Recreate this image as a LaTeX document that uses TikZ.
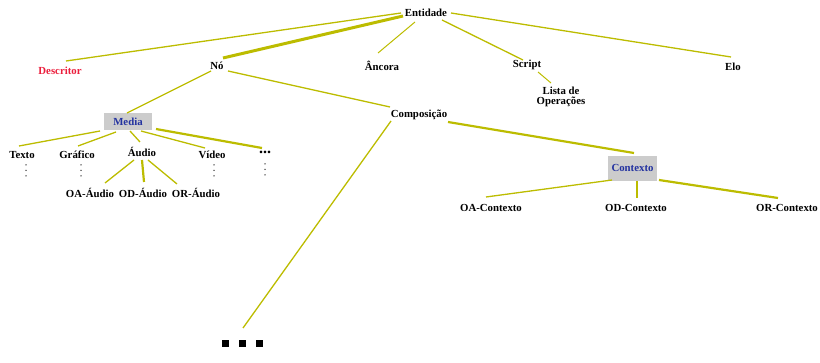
\documentclass[tikz,border=0pt]{standalone}
\usepackage{fontspec}
\setmainfont{Liberation Serif}
\usetikzlibrary{calc}
\definecolor{linkc}{RGB}{188,188,0}
\definecolor{boxgray}{RGB}{204,204,204}
\definecolor{mediablue}{RGB}{35,50,160}
\definecolor{descred}{RGB}{235,30,60}
\begin{document}
\begin{tikzpicture}[x=1pt,y=-1pt,
  lbl/.style={font=\fontsize{10.8}{10}\selectfont\bfseries, inner sep=0pt, align=center},
  graybox/.style={lbl, fill=boxgray, text=mediablue, minimum width=48pt},
  link/.style={draw=linkc, line width=1.3pt},
  thick link/.style={draw=linkc, line width=2.2pt},
  heavy link/.style={draw=linkc, line width=3pt},
  vdot/.style={fill=black!80, inner sep=0pt, minimum size=1.5pt, circle}]
\useasboundingbox (0,0) rectangle (820,363);

% nodes
\node[lbl] (ent) at (426,13) {Entidade};
\node[lbl, text=descred] (desc) at (60,71) {Descritor};
\node[lbl] (no) at (217,66) {Nó};
\node[lbl] (anc) at (382,66) {Âncora};
\node[lbl] (script) at (527,65) {Script};
\node[lbl] (elo) at (733,67) {Elo};
\node[lbl] (lista) at (561,97) {Lista de\\Operações};
\node[graybox, minimum height=17pt] (media) at (128,121.5) {Media};
\node[lbl] (comp) at (419,115) {Composição};
\node[graybox, minimum width=49pt, minimum height=25pt, text depth=0pt] (ctx) at (632.5,168.5) {\raisebox{2pt}{Contexto}};
\node[lbl] (oactx) at (491,208) {OA-Contexto};
\node[lbl] (odctx) at (636,208) {OD-Contexto};
\node[lbl] (orctx) at (787,208) {OR-Contexto};
\node[lbl] (texto) at (22,155) {Texto};
\node[lbl] (graf) at (77,155) {Gráfico};
\node[lbl] (audio) at (142,152) {Áudio};
\node[lbl] (video) at (212,155) {Vídeo};
\node[lbl, font=\fontsize{16}{16}\selectfont\bfseries] (more) at (265,152) {...};
\node[lbl] (oaa) at (90,193) {OA-Áudio};
\node[lbl] (oda) at (143,193) {OD-Áudio};
\node[lbl] (ora) at (196,193) {OR-Áudio};
\node[inner sep=0pt, minimum width=42pt, minimum height=8pt] (etc) at (242,344) {};
\foreach \dx in {-17,0,17}
  \fill ($(etc)+(\dx-3.5,-3.5)$) rectangle ++(7,7);

% vertical ellipsis under the media types
\foreach \n/\dx/\dy in {texto/4/0, graf/4/0, video/2/0, more/0/2}
  \foreach \yy in {10,15.5,21}
    \node[vdot] at ($(\n)+(\dx,\yy+\dy)$) {};

% connectors
\draw[link] ($(ent)+(-25,0)$) -- ($(desc)+(6,-10)$);
\draw[heavy link] ($(ent)+(-23,3)$) -- ($(no)+(6,-8)$);
\draw[link, line width=1pt] ($(ent)+(-11,9)$) -- ($(anc)+(-4,-13)$);
\draw[link] ($(ent)+(16,7)$) -- ($(script)+(-4,-5)$);
\draw[link] ($(ent)+(25,0)$) -- ($(elo)+(-2,-10)$);
\draw[link, line width=1pt] ($(script)+(11,7)$) -- ($(lista)+(-10,-14)$);
\draw[link] ($(no)+(-6,5)$) -- ($(media)+(-1,-8.5)$);
\draw[link] ($(no)+(11,5)$) -- ($(comp)+(-29,-8)$);
\draw[thick link] ($(comp)+(29,7)$) -- ($(ctx)+(1.5,-15.5)$);
\draw[link] ($(comp)+(-28,6)$) -- ($(etc)+(1,-16)$);
\draw[link] ($(ctx)+(-20.5,11.5)$) -- ($(oactx)+(-5,-11)$);
\draw[thick link] ($(ctx)+(4.5,12.5)$) -- ($(odctx)+(1,-10)$);
\draw[thick link] ($(ctx)+(26.5,11.5)$) -- ($(orctx)+(-9,-10)$);
\draw[link] ($(media)+(-28,9.5)$) -- ($(texto)+(-3,-9)$);
\draw[link] ($(media)+(-12,10.5)$) -- ($(graf)+(1,-9)$);
\draw[link] ($(media)+(2,9.5)$) -- ($(audio)+(-2,-10)$);
\draw[link] ($(media)+(13,9.5)$) -- ($(video)+(-7,-7)$);
\draw[thick link] ($(media)+(28,7.5)$) -- ($(more)+(-3,-4)$);
\draw[link] ($(audio)+(-8,8)$) -- ($(oaa)+(15,-10)$);
\draw[thick link] ($(audio)+(0,8)$) -- ($(oda)+(1,-11)$);
\draw[link] ($(audio)+(6,8)$) -- ($(ora)+(-19,-9)$);
\end{tikzpicture}
\end{document}
